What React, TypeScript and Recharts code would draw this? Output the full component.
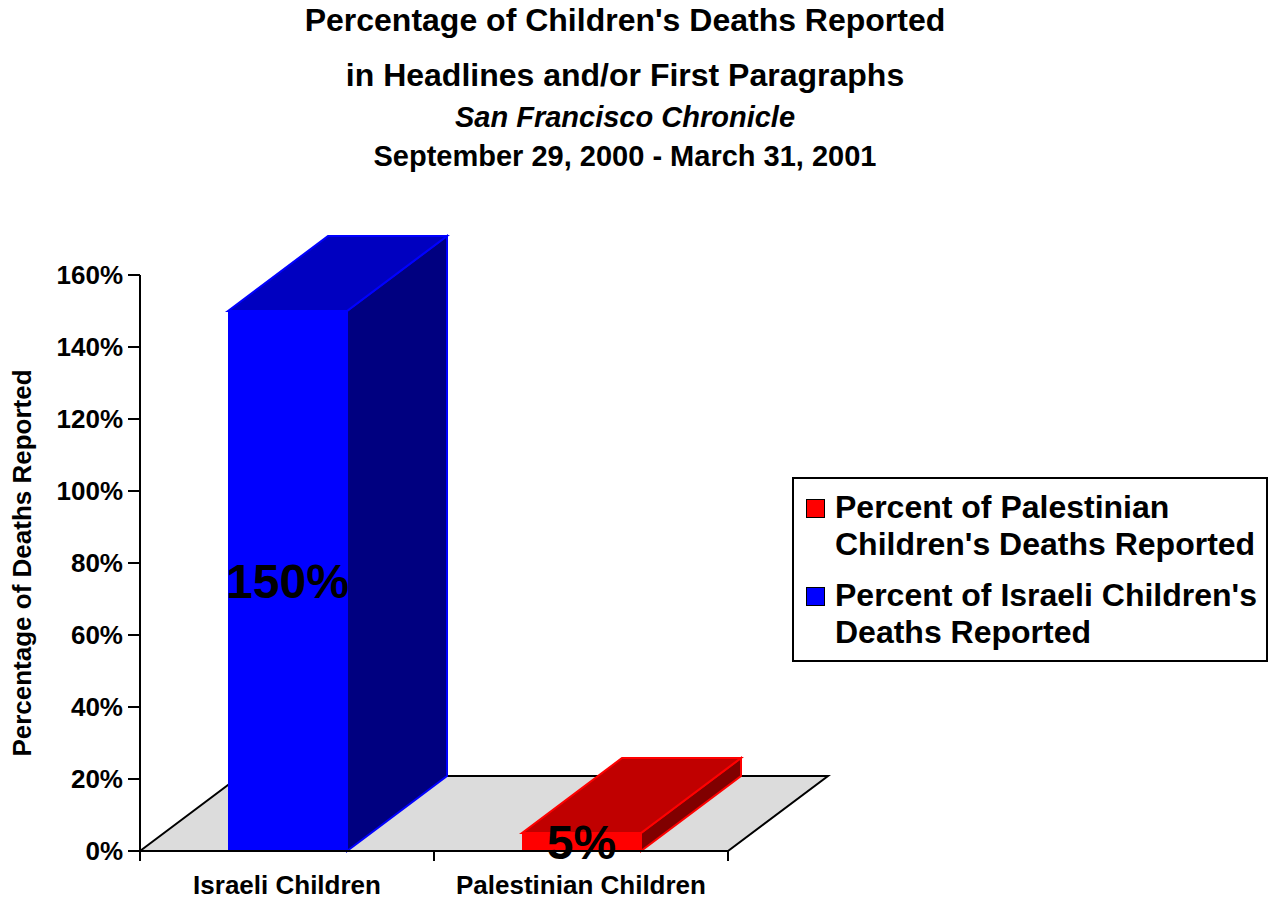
import React from "react";
import { BarChart, Bar, XAxis, YAxis, LabelList } from "recharts";

const categories = ["Israeli Children", "Palestinian Children"];
const percentReported = [150, 5];
const yTicks = [0, 20, 40, 60, 80, 100, 120, 140, 160];
const legendLines = [
  ["Percent of Palestinian", "Children's Deaths Reported"],
  ["Percent of Israeli Children's", "Deaths Reported"],
];
const titleLines = [
  "Percentage of Children's Deaths Reported",
  "in Headlines and/or First Paragraphs",
  "San Francisco Chronicle",
  "September 29, 2000 - March 31, 2001",
];

const data = categories.map((name, i) => ({ name, value: percentReported[i] }));

const FONT = "'Liberation Sans', Arial, Helvetica, sans-serif";
const W = 1274;
const H = 900;
const LEFT = 140;
const RIGHT = 728;
const TOP = 275;
const BOTTOM = 851;
const DX = 100;
const DY = 75;

// bar faces per category: front, top, side, edge
const PALETTE = [
  { front: "#0000ff", top: "#0000c0", side: "#000080", edge: "#0000ff" },
  { front: "#ff0000", top: "#c00000", side: "#800000", edge: "#ff0000" },
];
const LEGEND_COLORS = ["#ff0000", "#0000ff"];

function Box3D(props: any) {
  const { x, y, width, height, index } = props;
  const c = PALETTE[index % PALETTE.length];
  const x2 = x + width;
  const yb = y + height;
  return (
    <g>
      <polygon
        points={`${x2},${y} ${x2 + DX},${y - DY} ${x2 + DX},${yb - DY} ${x2},${yb}`}
        fill={c.side}
        stroke={c.edge}
        strokeWidth={2}
      />
      <polygon
        points={`${x},${y} ${x + DX},${y - DY} ${x2 + DX},${y - DY} ${x2},${y}`}
        fill={c.top}
        stroke={c.edge}
        strokeWidth={2}
      />
      <rect x={x} y={y} width={width} height={height} fill={c.front} />
    </g>
  );
}

function Floor() {
  const mid = (LEFT + RIGHT) / 2;
  return (
    <g>
      <polygon
        points={`${LEFT},${BOTTOM} ${LEFT + DX},${BOTTOM - DY} ${RIGHT + DX},${BOTTOM - DY} ${RIGHT},${BOTTOM}`}
        fill="#dcdcdc"
        stroke="#000"
        strokeWidth={2}
      />
      {[LEFT, mid, RIGHT].map((tx) => (
        <line key={tx} x1={tx} x2={tx} y1={BOTTOM} y2={BOTTOM + 10} stroke="#000" strokeWidth={2} />
      ))}
    </g>
  );
}

function Titles() {
  const cx = 625;
  return (
    <g fontFamily={FONT} fontWeight="bold" fill="#000" textAnchor="middle">
      <text x={cx} y={31} fontSize={32}>{titleLines[0]}</text>
      <text x={cx} y={86} fontSize={32}>{titleLines[1]}</text>
      <text x={cx} y={127} fontSize={29} fontStyle="italic">{titleLines[2]}</text>
      <text x={cx} y={166} fontSize={29}>{titleLines[3]}</text>
      <text x={31} y={563} fontSize={26} transform="rotate(-90 31 563)">
        Percentage of Deaths Reported
      </text>
    </g>
  );
}

function LegendBox() {
  return (
    <div
      style={{
        position: "absolute",
        left: 792,
        top: 477,
        width: 472,
        height: 181,
        border: "2px solid #000",
        background: "#fff",
        fontFamily: FONT,
        fontWeight: "bold",
        fontSize: 32,
        lineHeight: "37px",
        color: "#000",
        boxSizing: "content-box",
      }}
    >
      {legendLines.map((lines, i) => (
        <div key={i} style={{ position: "absolute", left: 41, top: 10 + i * 88 }}>
          <div
            style={{
              position: "absolute",
              left: -29,
              top: 10,
              width: 17,
              height: 17,
              background: LEGEND_COLORS[i],
              border: "1px solid #000",
            }}
          />
          {lines.map((l) => (
            <div key={l} style={{ whiteSpace: "nowrap" }}>{l}</div>
          ))}
        </div>
      ))}
    </div>
  );
}

export default function App() {
  return (
    <div style={{ position: "absolute", left: 0, top: 0, width: W, height: H, background: "#fff" }}>
      <BarChart
        width={W}
        height={H}
        data={data}
        margin={{ top: TOP, right: W - RIGHT, bottom: 0, left: LEFT - 100 }}
      >
        <Floor />
        <Titles />
        <XAxis
          dataKey="name"
          height={H - BOTTOM}
          axisLine={{ stroke: "#000", strokeWidth: 2 }}
          tickLine={false}
          tickSize={0}
          tickMargin={25}
          interval={0}
          tick={{ fill: "#000", fontSize: 26, fontWeight: "bold", fontFamily: FONT }}
        />
        <YAxis
          width={100}
          domain={[0, 160]}
          ticks={yTicks}
          interval={0}
          tickFormatter={(v: number) => `${v}%`}
          axisLine={{ stroke: "#000", strokeWidth: 2 }}
          tickLine={{ stroke: "#000", strokeWidth: 2 }}
          tickSize={12}
          tickMargin={5}
          tick={{ fill: "#000", fontSize: 26, fontWeight: "bold", fontFamily: FONT }}
        />
        <Bar dataKey="value" barSize={119} shape={<Box3D />} isAnimationActive={false}>
          <LabelList
            dataKey="value"
            position="center"
            formatter={(v: any) => `${v}%`}
            fill="#000"
            fontSize={48}
            fontWeight="bold"
            fontFamily={FONT}
          />
        </Bar>
      </BarChart>
      <LegendBox />
    </div>
  );
}
